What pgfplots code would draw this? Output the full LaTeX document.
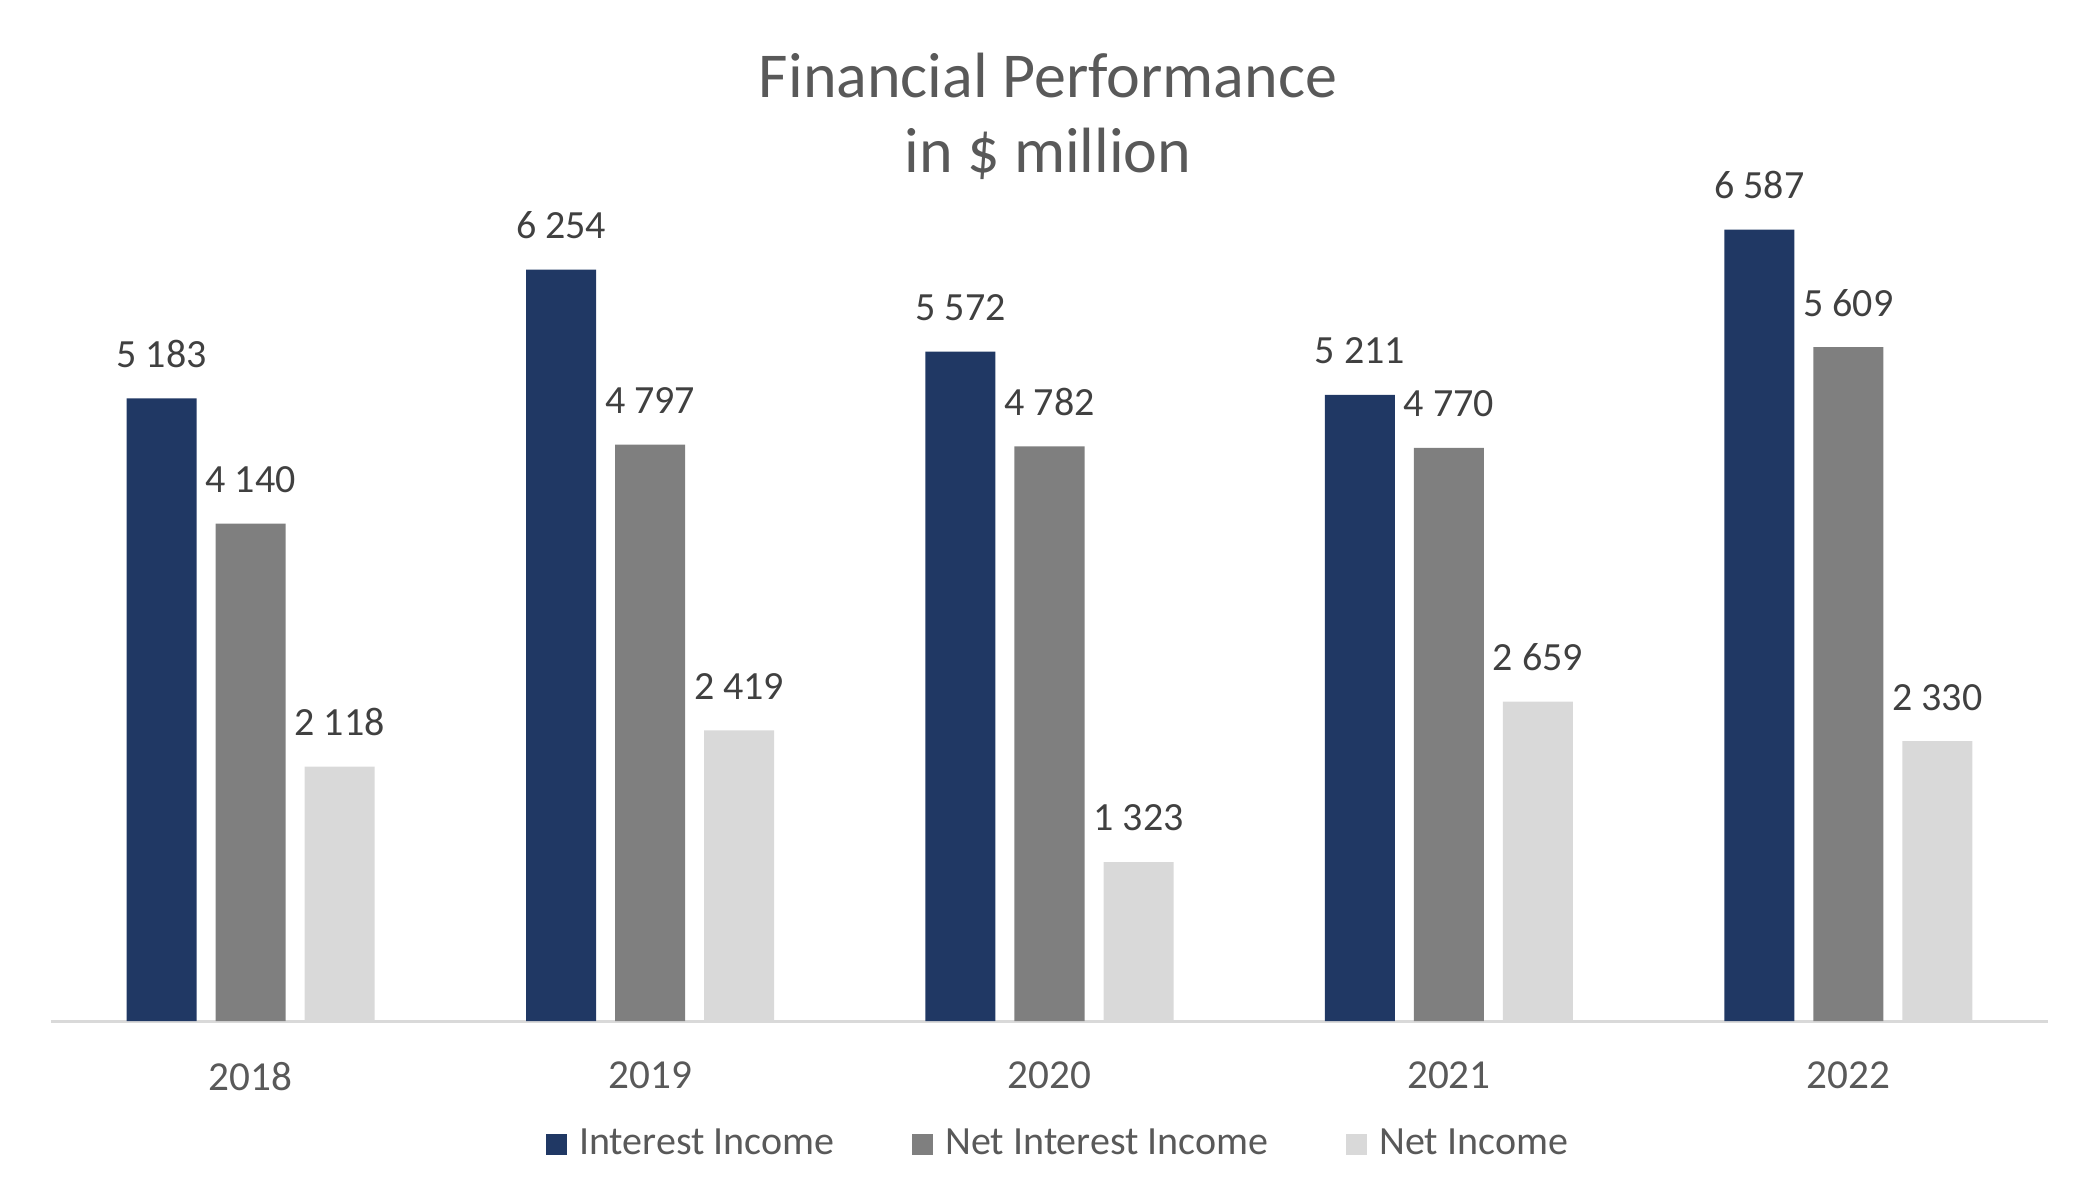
\documentclass[border=0pt]{standalone}
\usepackage{pgfplots}
\pgfplotsset{compat=1.18}
\usepackage{fontspec}
\setmainfont{Carlito}
\definecolor{navy}{HTML}{203864}
\definecolor{midgray}{HTML}{7F7F7F}
\definecolor{lightgray}{HTML}{D9D9D9}
\definecolor{titlegray}{HTML}{595959}
\definecolor{labelgray}{HTML}{404040}
\begin{document}
\begin{tikzpicture}
\path[use as bounding box] (-12.75pt,-40.5pt) rectangle (512pt,255.25pt);
\begin{axis}[
  at={(0pt,0pt)}, anchor=south west,
  scale only axis,
  width=499.25pt, height=210.25pt,
  xmin=-0.5, xmax=4.5, ymin=0, ymax=7000,
  clip=false,
  ybar=4.75pt, bar width=17.5pt,
  axis y line=none,
  axis x line*=bottom,
  x axis line style={draw=lightgray, line width=0.75pt, -},
  xtick={0,1,2,3,4},
  xticklabels={2018,2019,2020,2021,2022},
  major tick length=0pt,
  xticklabel style={font=\fontsize{10.3}{12}\selectfont, text=titlegray, inner sep=0pt, anchor=north, yshift=-10.1pt},
  /pgf/number format/.cd, 1000 sep={\ }, assume math mode=true,
  /pgfplots/.cd,
  nodes near coords,
  every node near coord/.append style={font=\fontsize{10}{12}\selectfont, text=labelgray, inner sep=0pt, anchor=south, yshift=7.5pt},
  legend columns=3,
  legend style={draw=none, fill=none, at={(0.5058,-0.1474)}, anchor=center,
    font=\fontsize{10}{12}\selectfont, text=titlegray,
    /tikz/every odd column/.append style={column sep=1pt},
    /tikz/every even column/.append style={column sep=17.5pt}},
  legend image code/.code={\fill[#1] (0pt,-2.625pt) rectangle (5.25pt,2.625pt);},
]
\addplot[fill=navy, draw=none] coordinates {(0,5183) (1,6254) (2,5572) (3,5211) (4,6587)};
\addplot[fill=midgray, draw=none] coordinates {(0,4140) (1,4797) (2,4782) (3,4770) (4,5609)};
\addplot[fill=lightgray, draw=none] coordinates {(0,2118) (1,2419) (2,1323) (3,2659) (4,2330)};
\legend{Interest Income, Net Interest Income, Net Income}
\end{axis}
\node[text=titlegray, font=\fontsize{16}{19}\selectfont] at (249.25pt,236.25pt) {Financial Performance};
\node[text=titlegray, font=\fontsize{16}{19}\selectfont] at (249.25pt,216.75pt) {in \$ million};
\end{tikzpicture}
\end{document}
